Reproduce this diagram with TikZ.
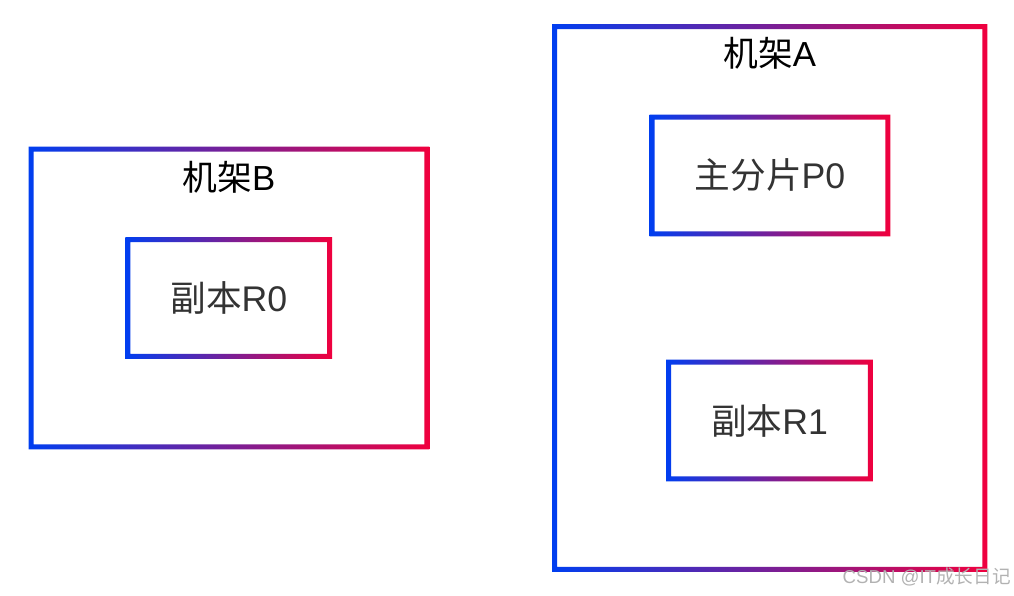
\documentclass[tikz,border=0pt]{standalone}
\usepackage{fontspec}
\setmainfont{Liberation Sans}
\newfontfamily\cjk{Noto Sans CJK SC}
\usetikzlibrary{calc,shadows}
\definecolor{ShardBlue}{RGB}{0,62,240}
\definecolor{ShardRed}{RGB}{240,0,62}
\definecolor{ShardText}{RGB}{51,51,51}
\definecolor{ShardMark}{RGB}{178,178,178}
\tikzset{
  shard/rack/.style={
    rectangle,
    fill=white,
    inner sep=0pt,
    drop shadow={opacity=0.12, shadow xshift=0.03cm, shadow yshift=-0.05cm}
  },
  shard/box/.style={
    shard/rack,
    text=ShardText,
    font=\fontsize{20.3}{23}\selectfont
  },
  shard/title/.style={font=\fontsize{19.8}{23}\selectfont, text=black, inner sep=0pt},
  shard/mark/.style={font=\fontsize{10.6}{12}\selectfont, text=ShardMark, inner sep=0pt}
}
% gradient frame, 5px wide, centred on the node border
\newcommand{\gradframe}[1]{%
  \shade[left color=ShardBlue, right color=ShardRed, even odd rule]
    ([shift={(-0.05,-0.05)}]#1.south west) rectangle ([shift={(0.05,0.05)}]#1.north east)
    ([shift={(0.05,0.05)}]#1.south west) rectangle ([shift={(-0.05,-0.05)}]#1.north east);}

\begin{document}
\begin{tikzpicture}[x=1cm,y=1cm]
  \useasboundingbox (0,0) rectangle (20.28,11.92);
  % racks
  \node[shard/rack, minimum width=7.9cm, minimum height=5.94cm] (rackB) at (4.58,5.96) {};
  \node[shard/rack, minimum width=8.59cm, minimum height=10.84cm] (rackA) at (15.395,5.96) {};
  \node[shard/title] (titleB) at ([yshift=-0.56cm]rackB.north) {{\cjk 机架}B};
  \node[shard/title] (titleA) at ([yshift=-0.53cm]rackA.north) {{\cjk 机架}A};
  % shards
  \node[shard/box, minimum width=4.02cm, minimum height=2.32cm] (r0) at (4.576,5.96) {{\cjk 副本}R0};
  \node[shard/box, minimum width=4.7cm, minimum height=2.32cm] (p0) at (15.4,8.41) {{\cjk 主分片}P0};
  \node[shard/box, minimum width=4.02cm, minimum height=2.32cm] (r1) at (15.39,3.51) {{\cjk 副本}R1};
  \foreach \n in {rackB,rackA,r0,p0,r1}{\gradframe{\n}}
  \node[shard/mark, anchor=east] (mark) at (20.22,0.38) {CSDN @IT{\cjk 成长日记}};
\end{tikzpicture}
\end{document}
